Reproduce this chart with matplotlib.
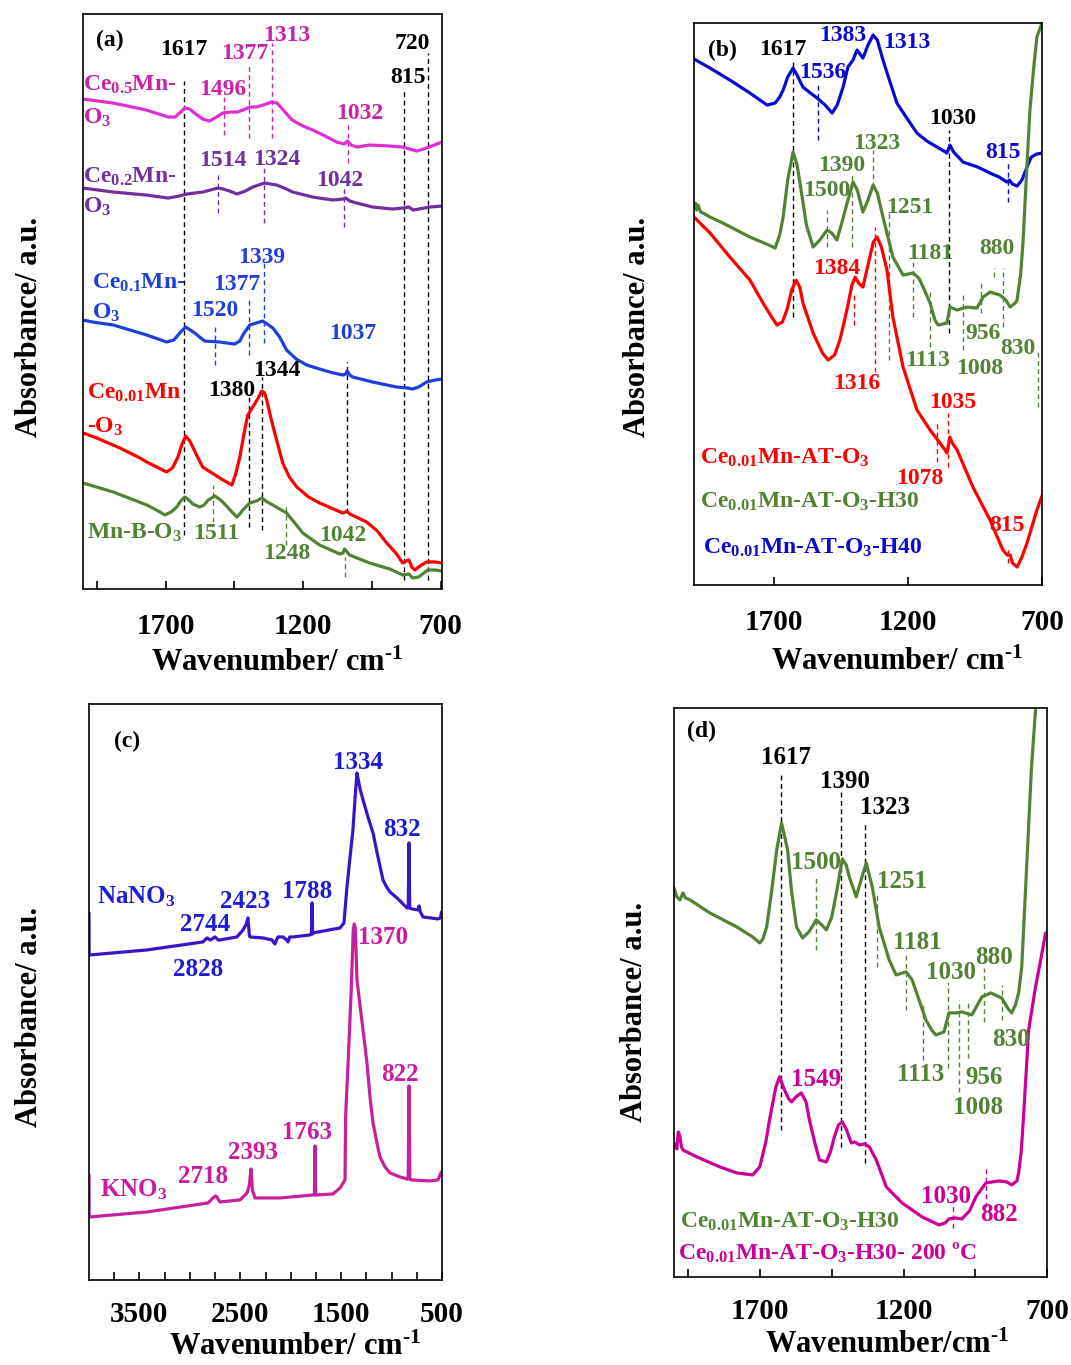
"""
FTIR spectra, four panels (a)-(d): Ce-doped Mn oxides, H30/H40 treatments,
nitrate references and the 200 ºC treated sample.
"""

import matplotlib
import matplotlib.pyplot as plt

matplotlib.use("Agg")

plt.rcParams.update({
    "font.family": ["Liberation Serif", "DejaVu Serif"],
    "font.weight": "bold",
    "axes.labelweight": "bold",
    "mathtext.fontset": "custom",
    "mathtext.rm": "Liberation Serif:bold",
    "mathtext.it": "Liberation Serif:bold",
    "mathtext.bf": "Liberation Serif:bold",
    "mathtext.default": "rm",
    "axes.linewidth": 1.2,
})

# ── Colours ──────────────────────────────────────────────────────────────────
K = "black"
MAG_A, MAG_A_TXT = "#dd2fd2", "#cc22aa"
PUR = "#7030a0"
BLU_A = "#1f3fdd"
RED = "#ff0000"
GRN = "#548235"
BLU_B = "#0a0ad0"
NA_CURVE, NA_TXT = "#3a14c8", "#1d1dd6"
K_CURVE, K_TXT = "#c8209c", "#cc1a9e"
MAG_D = "#cc0099"

# ── Panel (a) data (wavenumber / cm-1, absorbance a.u.) ─────────────────────
A_WN_CE05 = [2000, 1890, 1770, 1690, 1665, 1645, 1630, 1612, 1595, 1565, 1540, 1515,
             1492, 1465, 1438, 1410, 1394, 1370, 1345, 1314, 1295, 1275, 1240, 1200,
             1165, 1120, 1078, 1050, 1038, 1025, 1005, 958, 885, 838, 787, 751, 695]
A_CE05 = [490, 486, 479, 472, 472, 477, 481, 480, 476, 470, 468, 472,
          476, 477, 477, 480, 482, 482, 484, 487, 486, 480, 469, 463,
          459, 453, 447, 445, 448, 444, 442, 444, 443, 442, 438, 441, 447]

A_WN_CE02 = [2000, 1890, 1770, 1690, 1650, 1623, 1565, 1510, 1490, 1467, 1440, 1410,
             1383, 1340, 1296, 1260, 1238, 1165, 1092, 1055, 1045, 1030, 1005, 947,
             874, 838, 815, 800, 740, 695]
A_CE02 = [401, 397, 394, 391, 393, 395, 397, 401, 400, 398, 395, 398,
          402, 406, 404, 400, 397, 392, 389, 390, 391, 388, 386, 382,
          380, 381, 382, 379, 382, 383]

A_WN_CE01 = [2000, 1965, 1890, 1768, 1696, 1670, 1645, 1627, 1610, 1594, 1558, 1503,
             1449, 1430, 1419, 1394, 1370, 1347, 1330, 1310, 1285, 1260, 1225, 1187,
             1140, 1103, 1056, 1045, 1040, 1030, 1020, 947, 860, 820, 802, 780, 751,
             720, 695]
A_CE01 = [269, 267, 264, 254, 247, 249, 257, 262, 259, 256, 248, 247,
          245, 248, 254, 264, 266, 268, 265, 261, 252, 239, 230, 224,
          220, 217, 214, 215, 218, 214, 212, 207, 202, 201, 200, 202, 207,
          209, 210]

A_WN_CE001 = [2000, 1950, 1866, 1800, 1768, 1696, 1675, 1655, 1640, 1627, 1612, 1601,
              1580, 1565, 1503, 1459, 1445, 1430, 1415, 1401, 1383, 1365, 1350, 1340,
              1332, 1318, 1303, 1274, 1250, 1223, 1180, 1140, 1056, 1045, 1041, 1030,
              969, 930, 896, 860, 838, 825, 815, 805, 794, 775, 751, 720, 695]
A_CE001 = [156, 151, 141, 132, 127, 117, 121, 132, 145, 153, 148, 142,
           130, 122, 111, 104, 115, 132, 155, 174, 182, 190, 198, 196,
           189, 172, 156, 126, 112, 102, 92, 86, 76, 77, 78, 75,
           67, 58, 46, 35, 26, 28, 29, 22, 19, 23, 27, 27, 26]

A_WN_MNB = [2000, 1890, 1768, 1720, 1703, 1680, 1659, 1645, 1630, 1615, 1601, 1576,
            1560, 1545, 1521, 1505, 1492, 1465, 1441, 1430, 1419, 1394, 1370, 1350,
            1330, 1310, 1285, 1260, 1230, 1201, 1140, 1067, 1055, 1049, 1040, 1031,
            958, 885, 838, 815, 802, 780, 747, 720, 695]
A_MNB = [106, 97, 84, 77, 74, 77, 82, 88, 92, 89, 85, 82,
         84, 89, 93, 90, 87, 79, 72, 75, 79, 86, 88, 91,
         87, 84, 80, 76, 66, 56, 44, 35, 36, 40, 37, 34,
         26, 20, 14, 15, 11, 12, 19, 19, 18]

# marker lines: position, lower end, upper end, colour
A_MARK_WN = [1634, 834, 747, 1398, 1350, 1041, 1488, 1398, 1314, 1038,
             1510, 1343, 1052, 1521, 1398, 1343, 1528, 1263, 1049]
A_MARK_LO = [54, 9, 9, 62, 59, 76, 454, 451, 451, 426, 376, 366, 362, 224, 234, 246, 67, 44, 12]
A_MARK_HI = [508, 499, 536, 192, 212, 227, 492, 526, 546, 464, 414, 422, 401, 262, 289, 331, 104, 84, 32]
A_MARK_C = [K] * 6 + [MAG_A_TXT] * 4 + [PUR] * 3 + [BLU_A] * 3 + [GRN] * 3

A_LABELS = [
    ("1617", 1634, 540, K), ("1377", 1412, 536, MAG_A_TXT), ("1313", 1260, 554, MAG_A_TXT),
    ("720", 802, 546, K), ("815", 820, 512, K), ("1496", 1492, 500, MAG_A_TXT),
    ("1032", 994, 476, MAG_A_TXT), ("1514", 1492, 429, PUR), ("1324", 1296, 430, PUR),
    ("1042", 1067, 409, PUR), ("1339", 1350, 332, BLU_A), ("1377", 1441, 305, BLU_A),
    ("1520", 1521, 279, BLU_A), ("1037", 1020, 256, BLU_A), ("1344", 1296, 219, K),
    ("1380", 1459, 199, K), ("1511", 1514, 56, GRN), ("1248", 1260, 36, GRN),
    ("1042", 1056, 54, GRN),
]
A_NAMES = [
    ("Ce$_{0.5}$Mn-", 2000, 504, MAG_A_TXT), ("O$_3$", 2000, 471, MAG_A_TXT),
    ("Ce$_{0.2}$Mn-", 2000, 412, PUR), ("O$_3$", 2000, 382, PUR),
    ("Ce$_{0.1}$Mn-", 1968, 306, BLU_A), ("O$_3$", 1968, 276, BLU_A),
    ("Ce$_{0.01}$Mn", 1986, 196, RED), ("-O$_3$", 1986, 162, RED),
    ("Mn-B-O$_3$", 1986, 56, GRN),
]

# ── Panel (b) data ───────────────────────────────────────────────────────────
B_WN_H40 = [2000, 1940, 1866, 1791, 1727, 1697, 1680, 1667, 1650, 1630, 1615, 1593,
            1565, 1540, 1510, 1484, 1465, 1443, 1425, 1406, 1391, 1369, 1350, 1331,
            1315, 1294, 1270, 1242, 1200, 1167, 1130, 1092, 1060, 1055, 1048, 1044,
            1030, 995, 940, 894, 860, 831, 822, 810, 793, 775, 756, 740, 720, 700]
B_H40 = [526, 517, 505, 492, 480, 482, 488, 495, 508, 517, 510, 498,
         492, 487, 480, 472, 480, 498, 518, 525, 535, 527, 540, 550,
         545, 525, 505, 482, 465, 452, 444, 438, 433, 432, 437, 440,
         433, 423, 418, 412, 408, 403, 405, 401, 399, 405, 418, 428, 431, 432]

B_WN_H30 = [2000, 1995, 1990, 1985, 1975, 1966, 1940, 1892, 1791, 1720, 1697, 1680,
            1667, 1650, 1630, 1615, 1604, 1580, 1555, 1530, 1503, 1485, 1466, 1445,
            1428, 1406, 1390, 1369, 1350, 1331, 1315, 1294, 1257, 1219, 1182, 1160,
            1144, 1118, 1100, 1088, 1055, 1044, 1017, 980, 943, 920, 894, 857, 835,
            819, 800, 793, 780, 771, 760, 745, 730, 719, 700]
B_H30 = [378, 382, 375, 380, 373, 372, 368, 362, 348, 340, 337, 350,
         368, 405, 433, 420, 402, 360, 338, 345, 355, 352, 345, 365,
         382, 403, 395, 373, 385, 400, 392, 368, 328, 310, 312, 307,
         298, 282, 265, 260, 262, 278, 275, 278, 277, 288, 293, 290, 285,
         278, 282, 285, 310, 342, 400, 475, 520, 548, 562]

B_WN_AT = [2000, 1940, 1866, 1791, 1742, 1710, 1690, 1670, 1653, 1635, 1619, 1605,
           1593, 1555, 1520, 1499, 1475, 1455, 1440, 1425, 1410, 1398, 1385, 1369,
           1350, 1330, 1316, 1300, 1279, 1257, 1219, 1167, 1118, 1081, 1062, 1055,
           1044, 1035, 1017, 958, 894, 846, 830, 819, 810, 793, 775, 756, 719, 696]
B_AT = [368, 352, 328, 305, 282, 268, 260, 263, 275, 295, 305, 298,
        282, 252, 232, 225, 230, 245, 262, 280, 300, 308, 302, 298,
        320, 343, 348, 338, 315, 268, 218, 175, 155, 142, 135, 132,
        148, 142, 135, 98, 65, 35, 30, 30, 22, 18, 28, 42, 75, 92]

B_MARK_WN = [1630, 1047, 1537, 827, 1503, 1410, 1331, 1271, 1182, 1118, 995, 928, 879,
             846, 715, 1402, 1324, 1092, 1051, 827]
B_MARK_LO = [268, 252, 445, 383, 338, 338, 398, 225, 268, 238, 235, 272, 308, 258, 178,
             260, 213, 123, 118, 22]
B_MARK_HI = [525, 455, 502, 422, 375, 412, 435, 372, 325, 295, 292, 303, 317, 317, 235,
             290, 358, 162, 172, 38]
B_MARK_C = [K] * 2 + [BLU_B] * 2 + [GRN] * 11 + [RED] * 5

B_LABELS = [
    ("1617", 1667, 536, K), ("1383", 1443, 550, BLU_B), ("1313", 1204, 543, BLU_B),
    ("1536", 1518, 513, BLU_B), ("1030", 1032, 467, K), ("815", 846, 433, BLU_B),
    ("1323", 1316, 442, GRN), ("1390", 1447, 420, GRN), ("1500", 1503, 395, GRN),
    ("1251", 1193, 378, GRN), ("1181", 1118, 332, GRN), ("880", 868, 337, GRN),
    ("1384", 1466, 317, RED), ("956", 920, 252, GRN), ("830", 790, 237, GRN),
    ("1113", 1126, 225, GRN), ("1008", 932, 217, GRN), ("1316", 1391, 202, RED),
    ("1035", 1032, 183, RED), ("1078", 1156, 107, RED), ("815", 831, 60, RED),
]
B_NAMES = [
    ("Ce$_{0.01}$Mn-AT-O$_3$", 1978, 127, RED),
    ("Ce$_{0.01}$Mn-AT-O$_3$-H30", 1978, 83, GRN),
    ("Ce$_{0.01}$Mn-AT-O$_3$-H40", 1966, 37, BLU_B),
]

# ── Panel (c) data ───────────────────────────────────────────────────────────
C_WN_NA = [4000, 3999, 3990, 3425, 2870, 2830, 2800, 2780, 2751, 2720, 2701, 2533,
           2473, 2440, 2424, 2410, 2404, 2275, 2186, 2165, 2156, 2140, 2126, 2077,
           2040, 2027, 2010, 1977, 1809, 1795, 1789, 1783, 1779, 1511, 1472, 1445,
           1420, 1383, 1360, 1343, 1330, 1310, 1283, 1234, 1184, 1135, 1085, 1050,
           1016, 946, 847, 835, 827, 820, 798, 740, 728, 715, 688, 540, 515, 505]
C_NA = [367, 325, 325, 330, 338, 342, 340, 341, 343, 340, 340, 343,
        350, 356, 362, 345, 343, 342, 340, 337, 336, 340, 343, 343,
        340, 338, 343, 343, 345, 346, 377, 346, 347, 352, 357, 390,
        415, 450, 485, 507, 500, 490, 480, 463, 447, 423, 400, 393,
        388, 382, 372, 372, 437, 372, 371, 370, 374, 368, 363, 361, 362, 368]

C_WN_K = [4000, 3999, 3990, 3425, 2820, 2771, 2745, 2731, 2715, 2701, 2503, 2433,
          2410, 2394, 2380, 2354, 2106, 1779, 1765, 1759, 1753, 1739, 1581, 1511,
          1462, 1455, 1430, 1400, 1380, 1370, 1360, 1343, 1310, 1283, 1244, 1214,
          1184, 1145, 1115, 1065, 1016, 916, 847, 835, 827, 819, 807, 619, 540,
          515, 505]
C_K = [105, 63, 63, 68, 77, 82, 84, 83, 80, 78, 80, 87,
       95, 111, 90, 82, 82, 85, 85, 134, 85, 85, 86, 92,
       100, 165, 220, 290, 350, 356, 352, 300, 272, 250, 217, 183,
       157, 137, 123, 113, 107, 103, 101, 101, 194, 101, 100, 99, 100,
       106, 108]

C_LABELS = [
    ("1334", 1333, 517, NA_TXT), ("832", 897, 450, NA_TXT), ("2423", 2453, 378, NA_TXT),
    ("1788", 1839, 388, NA_TXT), ("2744", 2850, 355, NA_TXT), ("2828", 2919, 310, NA_TXT),
    ("1370", 1085, 342, K_TXT), ("822", 916, 205, K_TXT), ("1763", 1839, 147, K_TXT),
    ("2393", 2374, 127, K_TXT), ("2718", 2870, 103, K_TXT),
]
C_NAMES = [("NaNO$_3$", 3921, 383, NA_TXT), ("KNO$_3$", 3891, 90, K_TXT)]

# ── Panel (d) data ───────────────────────────────────────────────────────────
D_WN_H30 = [2000, 1990, 1979, 1969, 1960, 1944, 1875, 1781, 1726, 1701, 1690, 1677,
            1660, 1642, 1625, 1604, 1590, 1573, 1552, 1530, 1504, 1485, 1469, 1450,
            1434, 1413, 1400, 1389, 1365, 1345, 1330, 1309, 1285, 1250, 1226, 1191,
            1170, 1146, 1122, 1100, 1087, 1059, 1042, 1017, 997, 962, 927, 896, 858,
            835, 823, 810, 799, 788, 771, 754, 740]
D_H30 = [389, 380, 377, 384, 379, 377, 364, 350, 340, 334, 338, 350,
         385, 427, 454, 427, 385, 350, 339, 345, 357, 352, 347, 360,
         384, 418, 412, 400, 380, 400, 414, 390, 350, 317, 302, 305,
         297, 277, 257, 246, 242, 245, 264, 264, 265, 262, 280, 284, 279,
         268, 264, 272, 284, 310, 410, 510, 567]

D_WN_200 = [2000, 1990, 1985, 1979, 1974, 1969, 1920, 1840, 1781, 1726, 1701, 1680,
            1667, 1645, 1632, 1615, 1600, 1590, 1575, 1556, 1540, 1528, 1510, 1493,
            1469, 1455, 1441, 1427, 1413, 1400, 1382, 1370, 1354, 1335, 1319, 1295,
            1260, 1205, 1135, 1076, 1055, 1042, 1020, 997, 970, 948, 913, 868, 840,
            823, 805, 799, 790, 781, 764, 740, 720, 705]
D_200 = [134, 128, 145, 140, 130, 127, 120, 110, 104, 102, 110, 135,
         157, 190, 200, 187, 178, 175, 180, 184, 175, 157, 135, 117,
         115, 125, 140, 152, 155, 148, 134, 135, 132, 133, 130, 117,
         90, 74, 60, 52, 54, 58, 59, 58, 66, 80, 94, 96, 95,
         92, 96, 104, 125, 164, 247, 290, 320, 344]

D_MARK_WN = [1628, 1417, 1333, 1504, 1292, 1191, 1045, 920, 858, 1132, 1007, 976, 1028, 913]
D_MARK_LO = [147, 130, 114, 327, 310, 267, 209, 255, 257, 217, 185, 219, 49, 70]
D_MARK_HI = [505, 487, 453, 402, 384, 324, 295, 309, 292, 274, 277, 277, 75, 110]
D_MARK_C = [K] * 3 + [GRN] * 9 + [MAG_D] * 2

D_LABELS = [
    ("1617", 1608, 519, K), ("1390", 1403, 495, K), ("1323", 1264, 469, K),
    ("1500", 1504, 414, GRN), ("1251", 1205, 395, GRN), ("1181", 1153, 334, GRN),
    ("1030", 1035, 304, GRN), ("880", 885, 319, GRN), ("830", 826, 237, GRN),
    ("1113", 1139, 202, GRN), ("956", 920, 199, GRN), ("1008", 941, 169, GRN),
    ("1549", 1504, 197, MAG_D), ("1030", 1052, 80, MAG_D), ("882", 868, 62, MAG_D),
]
D_NAMES = [
    ("Ce$_{0.01}$Mn-AT-O$_3$-H30", 1979, 55, GRN),
    ("Ce$_{0.01}$Mn-AT-O$_3$-H30- 200 ºC", 1986, 24, MAG_D),
]

XLABEL = r"Wavenumber/ cm$^{\text{-1}}$"


# ── Helpers ──────────────────────────────────────────────────────────────────

def _frame(ax, xlim, ytop, ticks, ticklabels, pad=17):
    ax.set_xlim(*xlim)
    ax.set_ylim(0, ytop)
    ax.set_yticks([])
    ax.set_xticks(ticks)
    ax.set_xticklabels(ticklabels, fontweight="bold")
    ax.tick_params(axis="x", direction="in", length=6, width=1.2, pad=pad, labelsize=21)


def _curve(ax, wn, y, color):
    ax.plot(wn, y, color=color, lw=2.3, solid_joinstyle="round", solid_capstyle="round")


def _marks(ax, wn, lo, hi, colors):
    for x, a, b, c in zip(wn, lo, hi, colors):
        ax.plot([x, x], [a, b], color=c, lw=1.0, ls=(0, (3.5, 2.5)))


def _labels(ax, items, size=17):
    for s, x, y, c in items:
        ax.text(x, y, s, color=c, fontsize=size, ha="center", va="center")


def _names(ax, items, size=17):
    for s, x, y, c in items:
        ax.text(x, y, s, color=c, fontsize=size, ha="left", va="center")


def _axis_text(ax, ylab_x, ylab_y, xlab_x, xlab_y, xlabel=XLABEL):
    ax.set_ylabel("Absorbance/ a.u.", fontsize=22, fontweight="bold")
    ax.yaxis.set_label_coords(ylab_x, ylab_y)
    ax.set_xlabel(xlabel, fontsize=22, fontweight="bold")
    ax.xaxis.set_label_coords(xlab_x, xlab_y)


# ── Figure ───────────────────────────────────────────────────────────────────

fig = plt.figure(figsize=(10.71, 13.65), dpi=100)

ax_a = fig.add_axes([0.0775, 0.5685, 0.3352, 0.4212])
ax_b = fig.add_axes([0.6480, 0.5714, 0.3249, 0.4117])
ax_c = fig.add_axes([0.0831, 0.0623, 0.3296, 0.4220])
ax_d = fig.add_axes([0.6293, 0.0645, 0.3483, 0.4169])

# (a)
_frame(ax_a, (2000, 695), 575, [1950, 1700, 1450, 1200, 950, 700],
       ["", "1700", "", "1200", "", "700"])
_marks(ax_a, A_MARK_WN, A_MARK_LO, A_MARK_HI, A_MARK_C)
_curve(ax_a, A_WN_CE05, A_CE05, MAG_A)
_curve(ax_a, A_WN_CE02, A_CE02, PUR)
_curve(ax_a, A_WN_CE01, A_CE01, BLU_A)
_curve(ax_a, A_WN_CE001, A_CE001, RED)
_curve(ax_a, A_WN_MNB, A_MNB, GRN)
_labels(ax_a, A_LABELS)
_names(ax_a, A_NAMES)
ax_a.text(1903, 549, "(a)", fontsize=17, ha="center", va="center")
_axis_text(ax_a, -0.109, 0.456, 0.54, -0.104)

# (b)
_frame(ax_b, (2000, 700), 562, [1700, 1200, 700], ["1700", "1200", "700"])
_marks(ax_b, B_MARK_WN, B_MARK_LO, B_MARK_HI, B_MARK_C)
_curve(ax_b, B_WN_H40, B_H40, BLU_B)
_curve(ax_b, B_WN_H30, B_H30, GRN)
_curve(ax_b, B_WN_AT, B_AT, RED)
_labels(ax_b, B_LABELS)
_names(ax_b, B_NAMES)
ax_b.text(1892, 535, "(b)", fontsize=17, ha="center", va="center")
_axis_text(ax_b, -0.121, 0.46, 0.583, -0.112)

# (c)
c_ticks = list(range(3750, 499, -250))
_frame(ax_c, (4000, 500), 576, c_ticks,
       [str(t) if t in (3500, 2500, 1500, 500) else "" for t in c_ticks], pad=15)
_curve(ax_c, C_WN_NA, C_NA, NA_CURVE)
_curve(ax_c, C_WN_K, C_K, K_CURVE)
_labels(ax_c, C_LABELS, size=18)
_names(ax_c, C_NAMES, size=18)
ax_c.text(3623, 538, "(c)", fontsize=17, ha="center", va="center")
_axis_text(ax_c, -0.127, 0.457, 0.584, -0.092)

# (d)
_frame(ax_d, (2000, 705), 569, [1950, 1700, 1450, 1200, 950, 700],
       ["", "1700", "", "1200", "", "700"], pad=15)
_marks(ax_d, D_MARK_WN, D_MARK_LO, D_MARK_HI, D_MARK_C)
_curve(ax_d, D_WN_H30, D_H30, GRN)
_curve(ax_d, D_WN_200, D_200, MAG_D)
_labels(ax_d, D_LABELS, size=18)
_names(ax_d, D_NAMES)
ax_d.text(1903, 545, "(d)", fontsize=17, ha="center", va="center")
_axis_text(ax_d, -0.067, 0.466, 0.571, -0.094,
           xlabel=r"Wavenumber/cm$^{\text{-1}}$")

fig.savefig("out.png", dpi=100)
plt.close(fig)
